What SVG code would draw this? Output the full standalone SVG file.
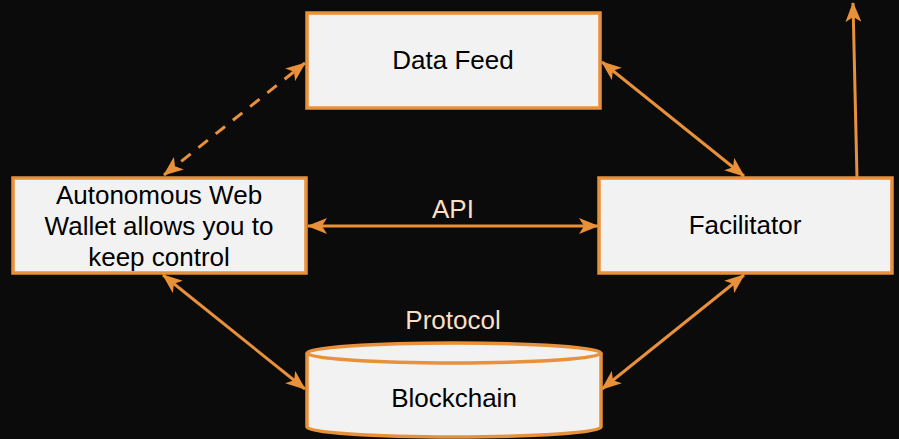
<svg xmlns="http://www.w3.org/2000/svg" width="899" height="439" viewBox="0 0 899 439">
<style>
.box{fill:#f2f2f2;stroke:#e8913a;stroke-width:3.5}
.t{font-family:"Liberation Sans",Arial,sans-serif;font-size:26px;fill:#000;text-anchor:middle}
.lbl{font-family:"Liberation Sans",Arial,sans-serif;font-size:26px;fill:#f9dfc3;text-anchor:middle}
.c{fill:none;stroke:#e8913a;stroke-width:3}
</style>
<defs>
<marker id="ah" viewBox="0 0 20 16" refX="19" refY="8" markerWidth="20" markerHeight="16" markerUnits="userSpaceOnUse" orient="auto-start-reverse">
<path d="M0,0 L20,8 L0,16 L5,8 Z" fill="#e8913a"/>
</marker>
</defs>
<rect width="899" height="439" fill="#0b0b0b"/>
<g id="connectors">
<line class="c" x1="164" y1="175" x2="305" y2="63" stroke-dasharray="12,10" marker-start="url(#ah)" marker-end="url(#ah)"/>
<line class="c" x1="602" y1="62" x2="744" y2="176" marker-start="url(#ah)" marker-end="url(#ah)"/>
<line class="c" x1="857" y1="178" x2="853" y2="3" marker-end="url(#ah)"/>
<line class="c" x1="308" y1="226" x2="598" y2="226" marker-start="url(#ah)" marker-end="url(#ah)"/>
<line class="c" x1="163" y1="275" x2="305" y2="389" marker-start="url(#ah)" marker-end="url(#ah)"/>
<line class="c" x1="744" y1="275" x2="602" y2="389" marker-start="url(#ah)" marker-end="url(#ah)"/>
<text class="lbl" x="453" y="218">API</text>
<text class="lbl" x="453" y="329">Protocol</text>
</g>
<g id="datafeed">
<rect class="box" x="307" y="13" width="293" height="95"/>
<text class="t" x="453" y="69">Data Feed</text>
</g>
<g id="wallet">
<rect class="box" x="13" y="178" width="293" height="95"/>
<text class="t" x="159" y="204">Autonomous Web</text>
<text class="t" x="159" y="235">Wallet allows you to</text>
<text class="t" x="159" y="266">keep control</text>
</g>
<g id="facilitator">
<rect class="box" x="599" y="178" width="293" height="95"/>
<text class="t" x="745" y="234">Facilitator</text>
</g>
<g id="blockchain">
<path class="box" d="M307,353 A147,10 0 0 1 601,353 L601,427 A147,10 0 0 1 307,427 Z"/>
<path class="c" d="M307,353 A147,10 0 0 0 601,353" style="stroke-width:3.5"/>
<text class="t" x="454" y="407">Blockchain</text>
</g>
</svg>
